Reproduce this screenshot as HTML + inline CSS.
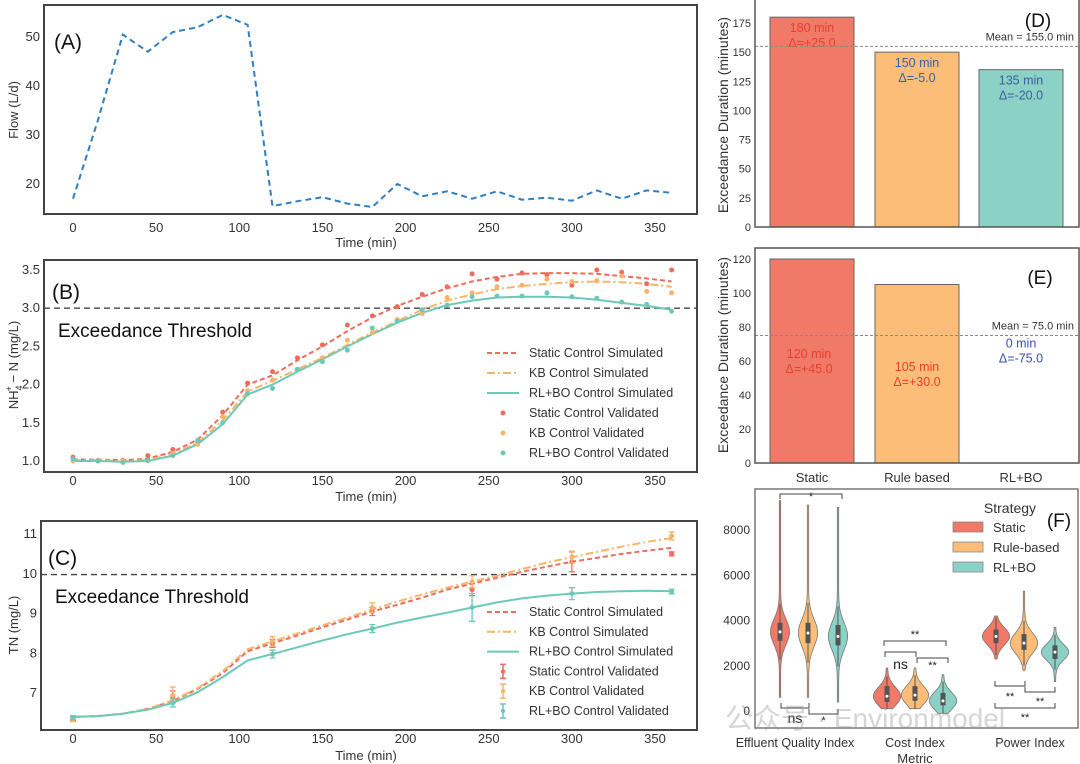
<!DOCTYPE html>
<html><head><meta charset="utf-8"><style>
html,body{margin:0;padding:0;background:#fff;}
svg{display:block;font-family:"Liberation Sans","Noto Sans CJK SC",sans-serif;}
</style></head><body>
<svg id="fig" width="1080" height="764" viewBox="0 0 1080 764" xmlns="http://www.w3.org/2000/svg">
<rect width="1080" height="764" fill="#fff"/>
<g id="gA"></g>
<g id="gB"></g>
<g id="gC"></g>
<g id="gD"></g>
<g id="gE"></g>
<g id="gF"></g>
<text x="725" y="728" font-size="28" fill="#999" opacity="0.4">公众号 · Environmodel</text>
</svg>
<script>
// ---- data ----
const timeSteps = [0,15,30,45,60,75,90,105,120,135,150,165,180,195,210,225,240,255,270,285,300,315,330,345,360];
const flowValues = [17,33,50.5,47,51,52,54.5,52.5,15.5,16.5,17.3,16,15.3,20,17.5,18.5,17,18.5,16.8,17.2,16.6,18.7,17,18.7,18.2];
const nhStaticSim = [1.02,1.02,1.01,1.03,1.12,1.28,1.6,2.0,2.12,2.32,2.5,2.7,2.88,3.03,3.15,3.26,3.35,3.41,3.45,3.46,3.46,3.45,3.42,3.39,3.35];
const nhKbSim = [1.01,1.01,1.0,1.01,1.09,1.24,1.53,1.91,2.05,2.2,2.35,2.52,2.68,2.83,2.98,3.1,3.18,3.25,3.29,3.32,3.34,3.35,3.34,3.32,3.28];
const nhRlSim = [1.0,1.0,0.99,1.0,1.07,1.22,1.48,1.87,2.0,2.17,2.33,2.5,2.66,2.81,2.94,3.04,3.1,3.14,3.15,3.15,3.14,3.11,3.07,3.03,2.98];
const nhStaticVal = [1.05,1.0,1.01,1.07,1.15,1.25,1.64,2.02,2.17,2.35,2.52,2.78,2.9,3.02,3.18,3.28,3.45,3.38,3.46,3.44,3.3,3.5,3.47,3.32,3.5];
const nhKbVal = [1.0,1.01,1.0,1.0,1.1,1.22,1.58,1.92,2.06,2.2,2.35,2.58,2.68,2.85,2.93,3.14,3.2,3.28,3.3,3.38,3.35,3.36,3.42,3.22,3.2];
const nhRlVal = [1.03,1.0,0.98,1.01,1.07,1.27,1.5,1.88,1.95,2.2,2.3,2.45,2.74,2.83,2.98,3.04,3.15,3.16,3.16,3.2,3.15,3.13,3.08,3.05,2.96];
const tnStaticSim = [6.4,6.42,6.48,6.6,6.8,7.1,7.5,8.05,8.25,8.45,8.65,8.85,9.05,9.22,9.4,9.6,9.75,9.9,10.05,10.18,10.3,10.4,10.5,10.58,10.65];
const tnKbSim = [6.4,6.42,6.48,6.6,6.82,7.12,7.55,8.1,8.3,8.5,8.7,8.9,9.1,9.3,9.48,9.65,9.8,9.95,10.12,10.28,10.42,10.55,10.68,10.8,10.9];
const tnRlSim = [6.4,6.42,6.48,6.58,6.75,7.02,7.4,7.82,7.98,8.15,8.32,8.48,8.62,8.77,8.9,9.02,9.15,9.28,9.38,9.45,9.5,9.54,9.56,9.57,9.56];
const tnValTimes = [0,60,120,180,240,300,360];
const tnStaticVal = [6.35,6.9,8.25,9.05,9.6,10.3,10.5];
const tnStaticErr = [0.05,0.15,0.1,0.1,0.15,0.25,0.05];
const tnKbVal = [6.33,6.95,8.3,9.15,9.8,10.42,10.95];
const tnKbErr = [0.05,0.2,0.12,0.12,0.15,0.15,0.1];
const tnRlVal = [6.38,6.75,7.98,8.62,9.15,9.5,9.55];
const tnRlErr = [0.05,0.1,0.1,0.1,0.35,0.15,0.06];
const strategies = ["Static","Rule based","RL+BO"];
const durD = [180,150,135];
const durE = [120,105,0];
const metrics = ["Effluent Quality Index","Cost Index","Power Index"];
const violinCenter = [[3500,3450,3300],[650,700,450],[3300,3000,2600]];
const violinSpread = [[550,600,600],[400,400,380],[380,450,350]];
const violinMin = [[600,600,400],[100,100,-100],[2300,1800,1300]];
const violinMax = [[9300,9100,9000],[1900,1900,1600],[4200,5300,3700]];
const violinQ1 = [[3100,3000,2900],[400,450,250],[3000,2700,2300]];
const violinQ3 = [[3900,3900,3800],[1100,1100,800],[3600,3400,2900]];

// ---- helpers ----
const NS="http://www.w3.org/2000/svg";
const COL=["#ef6c5c","#f8b56a","#6cc9b8"];
function mk(parent,tag,attrs,text){const e=document.createElementNS(NS,tag);for(const k in attrs)e.setAttribute(k,attrs[k]);if(text!==undefined)e.textContent=text;parent.appendChild(e);return e;}
function lin(d0,d1,r0,r1){return v=>r0+(v-d0)*(r1-r0)/(d1-d0);}
function path(xs,ys,sx,sy){return xs.map((x,i)=>(i?"L":"M")+sx(x).toFixed(1)+","+sy(ys[i]).toFixed(1)).join("");}
function frame(g,x0,y0,x1,y1){const r=mk(g,"rect",{x:x0,y:y0,width:x1-x0,height:y1-y0,fill:"none",stroke:"#444","stroke-width":2});}
function xTicks(g,sx,ticks,y,fs){ticks.forEach(t=>{const e=mk(g,"text",{x:sx(t),y:y,"font-size":fs||13,"text-anchor":"middle",fill:"#333"},t);});}
function yTicks(g,sy,ticks,x,fs,fmt){ticks.forEach(t=>{const e=mk(g,"text",{x:x,y:sy(t)+4,"font-size":fs||13,"text-anchor":"end",fill:"#333"},fmt?fmt(t):t);});}
function ytitle(g,x,y,txt,fs){const e=mk(g,"text",{x:x,y:y,"font-size":fs||13,"text-anchor":"middle",fill:"#333",transform:`rotate(-90 ${x} ${y})`},txt);return e;}

const tx=lin(0,350,73,655);

// ---- Panel A ----
{const g=document.getElementById("gA");const sy=lin(20,50,184,37);
frame(g,44,5,697,214);
xTicks(g,tx,[0,50,100,150,200,250,300,350],232);
yTicks(g,sy,[20,30,40,50],40);
const yt=ytitle(g,18,110,"Flow (L/d)");
const xt=mk(g,"text",{x:366,y:247,"font-size":13,"text-anchor":"middle",fill:"#333"},"Time (min)");
const lb=mk(g,"text",{x:54,y:49,"font-size":21,fill:"#111"},"(A)");
const p=mk(g,"path",{d:path(timeSteps,flowValues,tx,sy),fill:"none",stroke:"#2f7fc1","stroke-width":2,"stroke-dasharray":"6,4"});}

function legend(g,x,y0,dy,items){items.forEach((it,i)=>{const y=y0+i*dy;
 if(it.type==="line"){const l=mk(g,"line",{x1:x,y1:y-4,x2:x+32,y2:y-4,stroke:it.c,"stroke-width":2,"stroke-dasharray":it.dash||"none"});}
 else if(it.type==="dot"){const c=mk(g,"circle",{cx:x+16,cy:y-4,r:2.5,fill:it.c});}
 else {const l=mk(g,"path",{d:`M${x+16},${y-11}V${y+3}M${x+13},${y-11}H${x+19}M${x+13},${y+3}H${x+19}`,stroke:it.c,"stroke-width":1.5,fill:"none"});mk(g,"circle",{cx:x+16,cy:y-4,r:2.2,fill:it.c});}
 const t=mk(g,"text",{x:x+42,y:y,"font-size":12.5,fill:"#333"},it.t);});}

// ---- Panel B ----
{const g=document.getElementById("gB");const sy=lin(1.0,3.5,461,270);
frame(g,44,260,697,472);
xTicks(g,tx,[0,50,100,150,200,250,300,350],485);
yTicks(g,sy,[1.0,1.5,2.0,2.5,3.0,3.5],40,13,v=>v.toFixed(1));
const yt=mk(g,"text",{x:18,y:365,"font-size":13,"text-anchor":"middle",fill:"#333",transform:"rotate(-90 18 365)"});

yt.innerHTML='NH<tspan font-size="9" dy="4">4</tspan><tspan font-size="9" dy="-10" dx="-6">+</tspan><tspan dy="6"> − N (mg/L)</tspan>';
const xt=mk(g,"text",{x:366,y:501,"font-size":13,"text-anchor":"middle",fill:"#333"},"Time (min)");
const th=mk(g,"line",{x1:44,x2:697,y1:sy(3.0),y2:sy(3.0),stroke:"#444","stroke-width":1.3,"stroke-dasharray":"6,4"});
const tt=mk(g,"text",{x:58,y:337,"font-size":19,fill:"#111"},"Exceedance Threshold");
const lb=mk(g,"text",{x:52,y:299,"font-size":21,fill:"#111"},"(B)");
const sims=[[nhStaticSim,"5,3"],[nhKbSim,"8,3,2,3"],[nhRlSim,"none"]];
sims.forEach((s,i)=>{const p=mk(g,"path",{d:path(timeSteps,s[0],tx,sy),fill:"none",stroke:COL[i],"stroke-width":2,"stroke-dasharray":s[1]});});
[nhStaticVal,nhKbVal,nhRlVal].forEach((arr,i)=>arr.forEach((v,j)=>{const c=mk(g,"circle",{cx:tx(timeSteps[j]),cy:sy(v),r:2.5,fill:COL[i]});}));
legend(g,487,357,20,[{type:"line",c:COL[0],dash:"5,3",t:"Static Control Simulated"},{type:"line",c:COL[1],dash:"8,3,2,3",t:"KB Control Simulated"},{type:"line",c:COL[2],t:"RL+BO Control Simulated"},{type:"dot",c:COL[0],t:"Static Control Validated"},{type:"dot",c:COL[1],t:"KB Control Validated"},{type:"dot",c:COL[2],t:"RL+BO Control Validated"}]);}

// ---- Panel C ----
{const g=document.getElementById("gC");const sy=lin(7,11,693,534);
frame(g,41,521,697,730);
xTicks(g,tx,[0,50,100,150,200,250,300,350],743);
yTicks(g,sy,[7,8,9,10,11],37);
const yt=ytitle(g,18,625,"TN (mg/L)");
const xt=mk(g,"text",{x:366,y:760,"font-size":13,"text-anchor":"middle",fill:"#333"},"Time (min)");
const th=mk(g,"line",{x1:41,x2:697,y1:sy(9.98),y2:sy(9.98),stroke:"#444","stroke-width":1.3,"stroke-dasharray":"6,4"});
const tt=mk(g,"text",{x:55,y:603,"font-size":19,fill:"#111"},"Exceedance Threshold");
const lb=mk(g,"text",{x:48,y:565,"font-size":21,fill:"#111"},"(C)");
const sims=[[tnStaticSim,"5,3"],[tnKbSim,"8,3,2,3"],[tnRlSim,"none"]];
sims.forEach((s,i)=>{const p=mk(g,"path",{d:path(timeSteps,s[0],tx,sy),fill:"none",stroke:COL[i],"stroke-width":2,"stroke-dasharray":s[1]});});
[[tnStaticVal,tnStaticErr],[tnKbVal,tnKbErr],[tnRlVal,tnRlErr]].forEach((s,i)=>s[0].forEach((v,j)=>{const x=tx(tnValTimes[j]),y0=sy(v-s[1][j]),y1=sy(v+s[1][j]);
 const e=mk(g,"path",{d:`M${x},${y0}V${y1}M${x-3},${y0}H${x+3}M${x-3},${y1}H${x+3}`,stroke:COL[i],"stroke-width":1.3,fill:"none"});
 const c=mk(g,"circle",{cx:x,cy:sy(v),r:2.5,fill:COL[i]});}));
legend(g,487,616,19.8,[{type:"line",c:COL[0],dash:"5,3",t:"Static Control Simulated"},{type:"line",c:COL[1],dash:"8,3,2,3",t:"KB Control Simulated"},{type:"line",c:COL[2],t:"RL+BO Control Simulated"},{type:"err",c:COL[0],t:"Static Control Validated"},{type:"err",c:COL[1],t:"KB Control Validated"},{type:"err",c:COL[2],t:"RL+BO Control Validated"}]);}

// ---- Panels D & E ----
const BARCOL=["#f07968","#fbbd77","#8cd1c5"];
const barX=[770,875,979], barW=84;
{const g=document.getElementById("gD");const sy=lin(0,175,227,23);
const mean=durD.reduce((a,b)=>a+b,0)/durD.length;
durD.forEach((v,i)=>{const r=mk(g,"rect",{x:barX[i],y:sy(v),width:barW,height:sy(0)-sy(v),fill:BARCOL[i],stroke:"#666","stroke-width":1});
 const c=["#e8402e","#3b5fa0","#3b5fa0"][i];
 const t1=mk(g,"text",{x:barX[i]+barW/2,y:sy(v)+15,"font-size":12.5,"text-anchor":"middle",fill:c},v+" min");
 const d=v-mean;const t2=mk(g,"text",{x:barX[i]+barW/2,y:sy(v)+30,"font-size":12.5,"text-anchor":"middle",fill:c},"Δ="+(d>=0?"+":"")+d.toFixed(1));});
const ml=mk(g,"line",{x1:755,x2:1079,y1:sy(mean),y2:sy(mean),stroke:"#888","stroke-width":1,"stroke-dasharray":"3,2"});
const mt=mk(g,"text",{x:1074,y:sy(mean)-6,"font-size":11,"text-anchor":"end",fill:"#333"},"Mean = "+mean.toFixed(1)+" min");
const fr=mk(g,"path",{d:"M755,0V227H1079V0",fill:"none",stroke:"#555","stroke-width":1.5});
yTicks(g,sy,[0,25,50,75,100,125,150,175],751,11);
const yt=ytitle(g,728,115,"Exceedance Duration (minutes)",14);
const lb=mk(g,"text",{x:1038,y:27,"font-size":19,"text-anchor":"middle",fill:"#111"},"(D)");}
{const g=document.getElementById("gE");const sy=lin(0,120,463,259);
const mean=durE.reduce((a,b)=>a+b,0)/durE.length;
durE.forEach((v,i)=>{if(v>0){const r=mk(g,"rect",{x:barX[i],y:sy(v),width:barW,height:sy(0)-sy(v),fill:BARCOL[i],stroke:"#666","stroke-width":1});}
 const c=v>mean?"#e8402e":"#3b4fb0";const ly=v>0?sy(v/2)+5:sy(mean)+20;
 const t1=mk(g,"text",{x:barX[i]+barW/2-(i==0?3:0),y:ly-8,"font-size":12.5,"text-anchor":"middle",fill:c},v+" min");
 const d=v-mean;const t2=mk(g,"text",{x:barX[i]+barW/2-(i==0?3:0),y:ly+7,"font-size":12.5,"text-anchor":"middle",fill:c},"Δ="+(d>=0?"+":"")+d.toFixed(1));});
const ml=mk(g,"line",{x1:755,x2:1079,y1:sy(mean),y2:sy(mean),stroke:"#888","stroke-width":1,"stroke-dasharray":"3,2"});
const mt=mk(g,"text",{x:1074,y:sy(mean)-6,"font-size":11,"text-anchor":"end",fill:"#333"},"Mean = "+mean.toFixed(1)+" min");
const fr=mk(g,"rect",{x:755,y:248,width:324,height:215,fill:"none",stroke:"#555","stroke-width":1.5});
yTicks(g,sy,[0,20,40,60,80,100,120],751,11);
strategies.forEach((s,i)=>{const t=mk(g,"text",{x:barX[i]+barW/2,y:482,"font-size":13,"text-anchor":"middle",fill:"#333"},s);});
const yt=ytitle(g,728,355,"Exceedance Duration (minutes)",14);
const lb=mk(g,"text",{x:1040,y:284,"font-size":19,"text-anchor":"middle",fill:"#111"},"(E)");}

// ---- Panel F ----
{const g=document.getElementById("gF");const sy=lin(0,8000,711,530);
const cx=[[780,808,838],[887,915,943],[996,1024,1055]];const maxW=[9,13,13];
const fr=mk(g,"rect",{x:755,y:489,width:323,height:239,fill:"none",stroke:"#555","stroke-width":1.2});
yTicks(g,sy,[0,2000,4000,6000,8000],750,12);
metrics.forEach((m,k)=>{const x=[795,915,1030][k];const t=mk(g,"text",{x:x,y:747,"font-size":12.5,"text-anchor":"middle",fill:"#333"},m);});
const xt=mk(g,"text",{x:915,y:763,"font-size":13,"text-anchor":"middle",fill:"#333"},"Metric");
for(let k=0;k<3;k++)for(let i=0;i<3;i++){const c=violinCenter[k][i],s=violinSpread[k][i],lo=violinMin[k][i],hi=violinMax[k][i],x=cx[k][i];
 const L=[],R=[];for(let n=0;n<=40;n++){const v=lo+(hi-lo)*n/40;const w=0.7+maxW[k]*Math.exp(-((v-c)*(v-c))/(2*s*s));L.push([x-w,sy(v)]);R.push([x+w,sy(v)]);}
 const d="M"+L.map(p=>p[0].toFixed(1)+","+p[1].toFixed(1)).join("L")+"L"+R.reverse().map(p=>p[0].toFixed(1)+","+p[1].toFixed(1)).join("L")+"Z";
 const p=mk(g,"path",{d:d,fill:BARCOL[i],stroke:"#777","stroke-width":0.8});
 mk(g,"line",{x1:x,x2:x,y1:sy(Math.max(lo,c-2.2*s)),y2:sy(Math.min(hi,c+2.2*s)),stroke:"#555","stroke-width":1});
 const b=mk(g,"rect",{x:x-2.5,y:sy(violinQ3[k][i]),width:5,height:sy(violinQ1[k][i])-sy(violinQ3[k][i]),fill:"#555"});
 mk(g,"circle",{cx:x,cy:sy(c),r:1.5,fill:"#fff"});}
function br(x1,x2,y,up,lab,ly){const d=up?`M${x1},${y+5}V${y}H${x2}V${y+5}`:`M${x1},${y-5}V${y}H${x2}V${y-5}`;const e=mk(g,"path",{d:d,fill:"none",stroke:"#444","stroke-width":1});const t=mk(g,"text",{x:(x1+x2)/2,y:ly,"font-size":lab=="ns"?14:11,"text-anchor":"middle",fill:"#222"},lab);}
br(780,842,494,true,"*",500);
br(781,809,708,false,"ns",723);br(809,838,714,false,"*",724);
br(884,946,641,true,"**",638);br(885,916,652,true,"ns",669);br(917,948,658,true,"**",669);
br(995,1025,686,false,"**",700);br(1025,1055,692,false,"**",705);br(995,1055,708,false,"**",721);
const lt=mk(g,"text",{x:1010,y:513,"font-size":14,"text-anchor":"middle",fill:"#333"},"Strategy");
["Static","Rule-based","RL+BO"].forEach((s,i)=>{const y=522+i*20;const r=mk(g,"rect",{x:953,y:y,width:30,height:10,fill:BARCOL[i],stroke:"#888","stroke-width":0.8});
 const t=mk(g,"text",{x:993,y:y+10,"font-size":13,fill:"#333"},s);});
const lb=mk(g,"text",{x:1059,y:527,"font-size":19,"text-anchor":"middle",fill:"#111"},"(F)");}
</script>
</body></html>
